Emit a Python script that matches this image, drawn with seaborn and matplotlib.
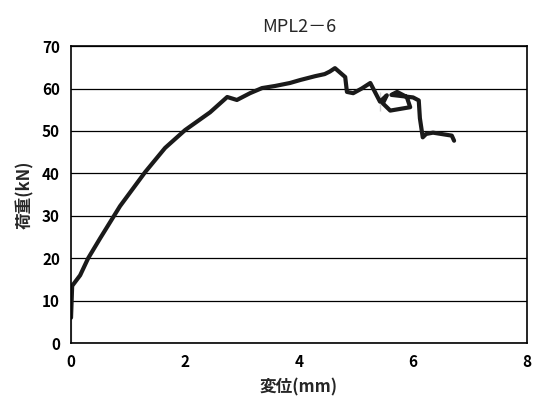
import matplotlib
matplotlib.use('Agg')
import matplotlib.pyplot as plt
import seaborn as sns
import pandas as pd

# 変位 (mm) と 荷重 (kN) - 図から読み取り
disp = [0.0, 0.0, 0.02, 0.16, 0.30, 0.51, 0.86, 1.30, 1.65, 2.00, 2.44, 2.74, 2.91,
        3.14, 3.35, 3.58, 3.84, 4.02, 4.28, 4.45, 4.54, 4.63, 4.81, 4.84, 4.95,
        5.10, 5.25, 5.42, 5.54, 5.47, 5.42, 5.60, 5.95, 5.89, 5.72, 5.62, 5.75, 6.00,
        6.10, 6.12, 6.17, 6.23, 6.35, 6.68, 6.72]
load = [0.0, 12.0, 13.5, 16.0, 20.0, 24.7, 32.3, 40.3, 46.0, 50.2, 54.4, 58.0, 57.3,
        58.9, 60.1, 60.6, 61.3, 62.0, 62.9, 63.4, 64.0, 64.8, 62.7, 59.2, 58.9,
        60.0, 61.3, 59.2, 58.4, 56.5, 54.6, 54.8, 55.6, 58.0, 59.2, 58.5, 58.3, 57.9,
        57.2, 53.0, 48.5, 49.3, 49.6, 48.9, 47.7]

df = pd.DataFrame({'disp': disp, 'load': load})

sns.set_style('white')
plt.rcParams['font.family'] = ['Noto Sans CJK JP', 'DejaVu Sans']

fig = plt.figure(figsize=(5.34, 4.15), dpi=100)
ax = fig.add_axes([0.133, 0.173, 0.854, 0.716])

sns.lineplot(data=df, x='disp', y='load', sort=False, color='#1a1a1a',
             linewidth=3.0, ax=ax)

ax.set_xlim(0, 8)
ax.set_ylim(0, 70)
ax.set_xticks([0, 2, 4, 6, 8])
ax.set_yticks(range(0, 71, 10))
ax.yaxis.grid(True, color='black', linewidth=0.9)
ax.xaxis.grid(False)
for s in ax.spines.values():
    s.set_color('black')
    s.set_linewidth(1.2)
ax.tick_params(axis='both', direction='in', length=3, labelsize=11, colors='black', pad=8)
for lbl in ax.get_xticklabels() + ax.get_yticklabels():
    lbl.set_fontweight('bold')

ax.set_xlabel('変位(mm)', fontsize=12, fontweight='bold', labelpad=6)
ax.set_ylabel('荷重(kN)', fontsize=12, fontweight='bold', labelpad=6)
ax.set_title('MPL2－6', fontsize=13, pad=10)

fig.savefig('out.png', dpi=100)
